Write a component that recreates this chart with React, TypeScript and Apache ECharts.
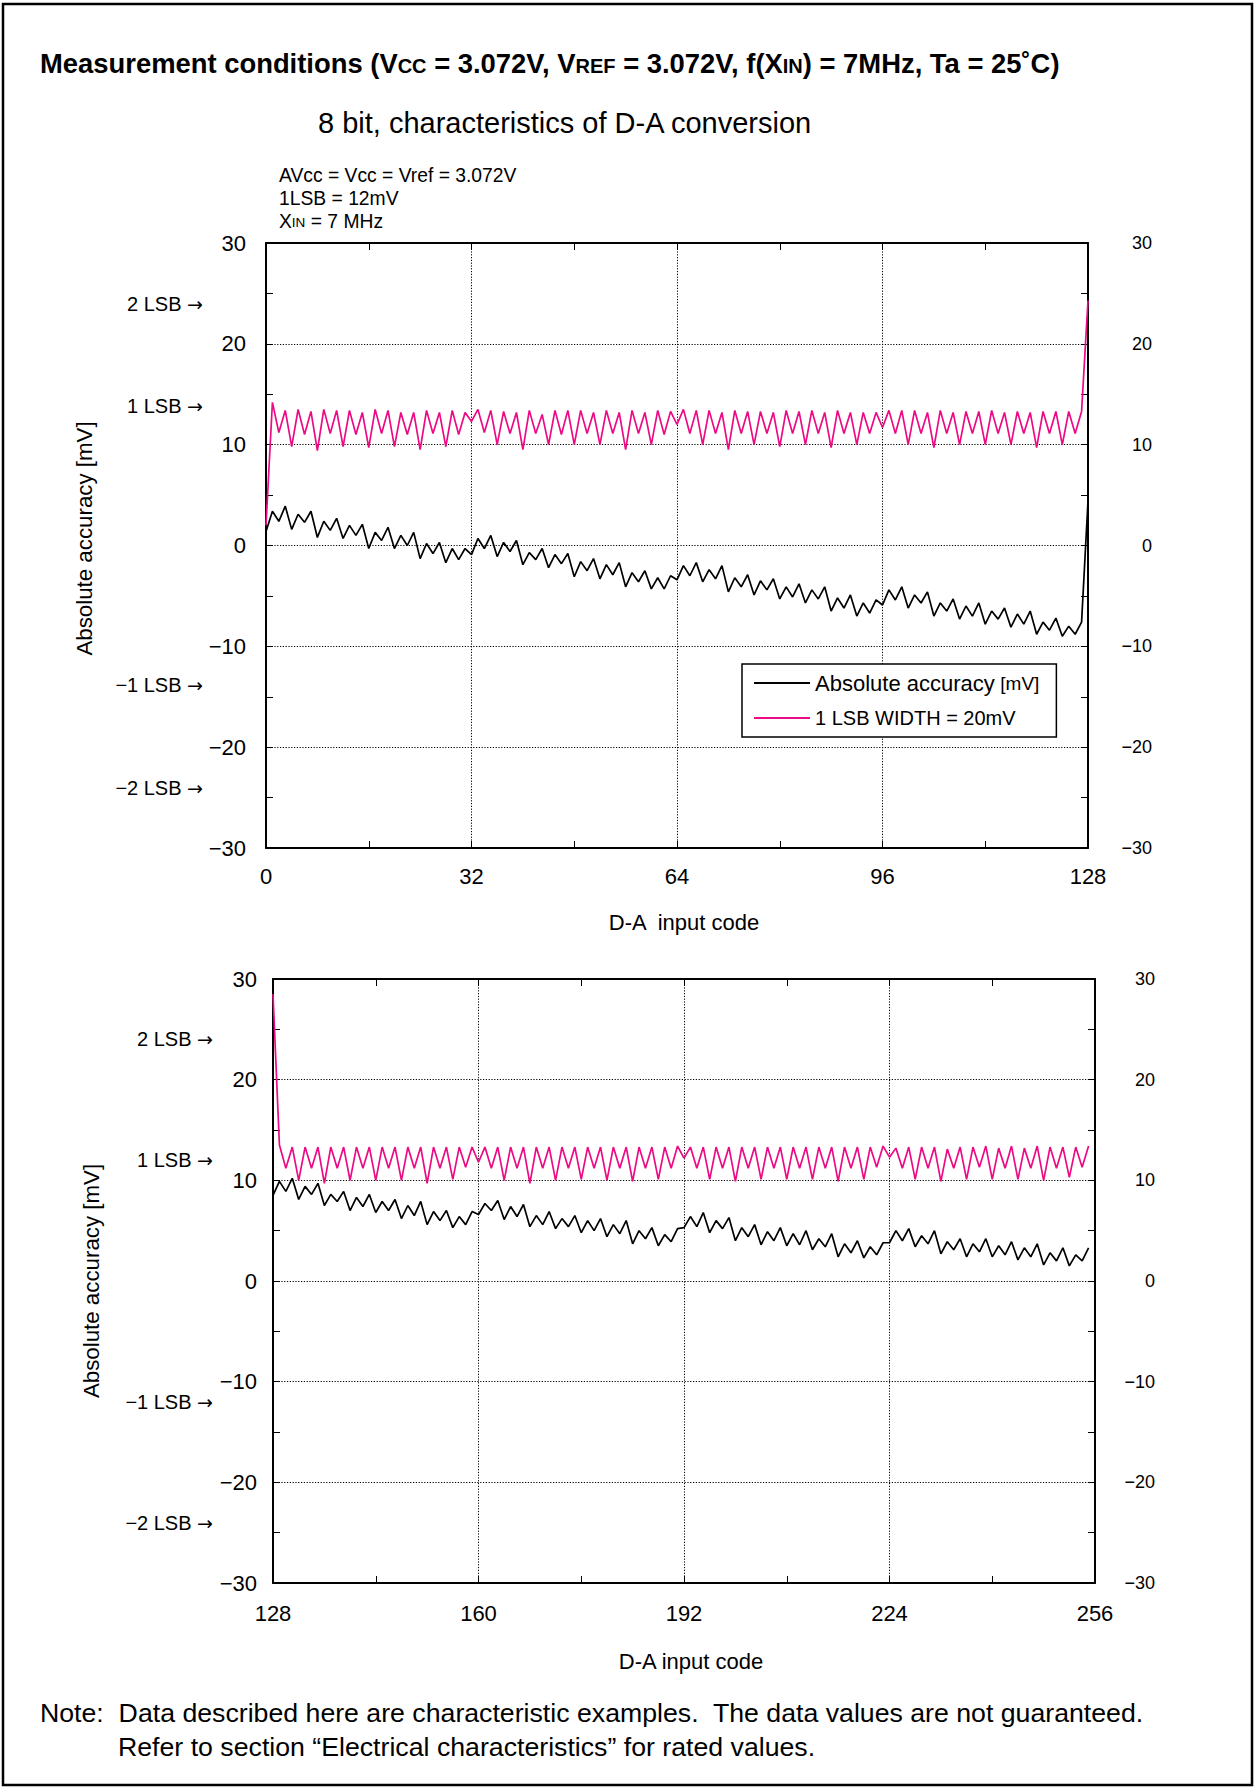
import React, { useEffect, useRef } from "react";
import * as echarts from "echarts";

const FONT = "'Liberation Sans', Arial, Helvetica, sans-serif";
const ARROW_FONT = "'DejaVu Sans', 'Liberation Sans', sans-serif";
const BLACK = "#000000";
const PINK = "#ec0a85";

// ---- data ----
const topCodes: number[] = Array.from({ length: 129 }, (_, i) => i); // 0..128
const bottomCodes: number[] = Array.from({ length: 128 }, (_, i) => 128 + i); // 128..255

const topAbsAccuracy: number[] = [
  1.4, 3.4, 2.4, 3.9, 1.6, 3.1, 2.3, 3.4, 0.8, 2.4, 1.5, 2.7, 0.7, 2.0, 1.0, 2.1,
  -0.3, 1.3, 0.5, 1.8, -0.3, 1.0, 0.0, 1.3, -1.3, 0.2, -0.8, 0.3, -1.7, -0.3, -1.4, -0.3,
  -0.9, 0.7, -0.3, 1.0, -1.1, 0.3, -0.6, 0.5, -1.9, -0.7, -1.4, -0.3, -2.2, -0.9, -1.8, -0.8,
  -3.1, -1.6, -2.5, -1.3, -3.3, -1.9, -2.9, -1.7, -4.1, -2.7, -3.6, -2.5, -4.3, -3.2, -4.3, -3.0,
  -3.4, -2.0, -3.0, -1.7, -3.6, -2.4, -3.3, -2.0, -4.6, -3.2, -4.1, -2.9, -4.9, -3.5, -4.4, -3.3,
  -5.3, -4.1, -5.1, -3.8, -5.7, -4.4, -5.3, -4.1, -6.5, -5.2, -6.2, -4.9, -7.0, -5.7, -6.7, -5.4,
  -5.9, -4.4, -5.4, -4.1, -6.2, -4.9, -5.7, -4.6, -7.0, -5.7, -6.5, -5.3, -7.3, -6.0, -7.0, -5.7,
  -7.8, -6.5, -7.3, -6.2, -8.1, -6.8, -7.8, -6.5, -8.8, -7.6, -8.4, -7.2, -9.0, -8.0, -8.8, -7.6,
  4.4,
];

const topLsbWidth: number[] = [
  2.0, 14.2, 11.2, 13.4, 9.8, 13.5, 11.0, 13.3, 9.4, 13.5, 11.1, 13.4, 9.8, 13.4, 11.0, 13.2,
  9.7, 13.5, 11.1, 13.4, 9.8, 13.2, 11.0, 13.2, 9.5, 13.4, 11.1, 13.2, 9.8, 13.4, 11.0, 13.2,
  12.3, 13.5, 11.2, 13.4, 10.0, 13.3, 11.1, 13.2, 9.5, 13.4, 11.1, 13.0, 10.0, 13.4, 11.0, 13.4,
  10.0, 13.4, 11.1, 13.2, 10.0, 13.4, 11.1, 13.2, 9.5, 13.4, 11.1, 13.2, 10.0, 13.4, 11.0, 13.3,
  12.0, 13.5, 11.1, 13.4, 10.0, 13.4, 11.1, 13.2, 9.5, 13.4, 11.1, 13.3, 10.0, 13.3, 11.1, 13.2,
  9.8, 13.4, 11.1, 13.3, 10.0, 13.4, 11.1, 13.2, 9.7, 13.4, 11.1, 13.2, 10.0, 13.2, 11.1, 13.2,
  11.7, 13.4, 11.1, 13.4, 10.0, 13.4, 11.1, 13.2, 9.7, 13.4, 11.1, 13.2, 10.0, 13.3, 11.1, 13.3,
  10.0, 13.4, 11.1, 13.2, 10.0, 13.3, 11.1, 13.2, 9.7, 13.3, 11.1, 13.3, 10.0, 13.3, 11.1, 13.3,
  24.3,
];

const bottomAbsAccuracy: number[] = [
  8.5, 9.9, 8.9, 10.2, 8.1, 9.4, 8.6, 9.7, 7.5, 8.6, 7.9, 8.9, 7.0, 8.3, 7.4, 8.6,
  6.8, 7.9, 7.0, 8.1, 6.2, 7.5, 6.5, 7.9, 5.6, 6.9, 6.0, 7.0, 5.3, 6.4, 5.6, 6.9,
  6.6, 7.7, 7.0, 8.0, 6.1, 7.4, 6.4, 7.6, 5.4, 6.5, 5.6, 6.9, 5.2, 6.2, 5.4, 6.5,
  4.8, 6.0, 5.0, 6.2, 4.4, 5.6, 4.7, 6.0, 3.7, 5.0, 4.2, 5.3, 3.5, 4.6, 3.9, 5.2,
  5.3, 6.4, 5.4, 6.8, 4.8, 6.0, 5.2, 6.3, 4.0, 5.3, 4.4, 5.6, 3.6, 4.9, 4.0, 5.3,
  3.5, 4.7, 3.6, 5.0, 3.1, 4.2, 3.4, 4.7, 2.4, 3.7, 2.8, 4.0, 2.3, 3.4, 2.6, 3.8,
  3.8, 5.0, 4.0, 5.2, 3.4, 4.5, 3.7, 5.0, 2.7, 3.9, 3.1, 4.2, 2.4, 3.7, 2.9, 4.2,
  2.4, 3.5, 2.6, 3.9, 2.1, 3.3, 2.4, 3.7, 1.6, 2.8, 2.0, 3.3, 1.5, 2.6, 2.0, 3.3,
];

const bottomLsbWidth: number[] = [
  28.5, 13.5, 11.2, 13.3, 10.0, 13.3, 11.2, 13.3, 9.7, 13.3, 11.2, 13.3, 10.0, 13.3, 11.2, 13.3,
  10.0, 13.3, 11.2, 13.3, 10.0, 13.3, 11.2, 13.3, 9.7, 13.3, 11.2, 13.3, 10.1, 13.3, 11.3, 13.3,
  11.8, 13.3, 11.2, 13.3, 10.0, 13.3, 11.2, 13.3, 9.7, 13.3, 11.2, 13.3, 10.0, 13.3, 11.2, 13.3,
  10.1, 13.3, 11.2, 13.3, 10.0, 13.3, 11.2, 13.3, 9.9, 13.3, 11.2, 13.3, 10.1, 13.3, 11.2, 13.4,
  12.2, 13.3, 11.2, 13.3, 10.1, 13.3, 11.2, 13.3, 9.9, 13.3, 11.2, 13.3, 10.1, 13.3, 11.2, 13.3,
  10.1, 13.3, 11.2, 13.3, 10.1, 13.3, 11.2, 13.3, 9.9, 13.3, 11.2, 13.3, 10.1, 13.3, 11.3, 13.4,
  12.3, 13.2, 11.2, 13.3, 10.1, 13.3, 11.2, 13.3, 9.9, 13.1, 11.2, 13.3, 10.1, 13.3, 11.3, 13.4,
  10.1, 13.2, 11.2, 13.4, 10.1, 13.2, 11.2, 13.4, 10.0, 13.3, 11.2, 13.3, 10.3, 13.3, 11.3, 13.4,
];

const seriesNames = ["Absolute accuracy", "1 LSB WIDTH = 20mV"];
const topLsbMarks = [
  { text: "2 LSB", value: 24 },
  { text: "1 LSB", value: 13.8 },
  { text: "−1 LSB", value: -13.8 },
  { text: "−2 LSB", value: -24 },
];
const bottomLsbMarks = [
  { text: "2 LSB", value: 24 },
  { text: "1 LSB", value: 12 },
  { text: "−1 LSB", value: -12 },
  { text: "−2 LSB", value: -24 },
];

const minusFmt = (v: number) => String(v).replace("-", "−");

function xAxes(grid: number, min: number, max: number, name: string, nameGap: number, labelMargin: number) {
  const common = {
    gridIndex: grid,
    type: "value",
    min,
    max,
    interval: 32,
    axisLine: { show: true, onZero: false, lineStyle: { color: BLACK, width: 2 } },
    axisTick: { show: true, inside: true, length: 7, lineStyle: { color: BLACK, width: 1 } },
    minorTick: { show: true, splitNumber: 2, length: 7, lineStyle: { color: BLACK, width: 1 } },
  };
  return [
    {
      ...common,
      position: "bottom",
      name,
      nameLocation: "middle",
      nameGap,
      nameTextStyle: { fontSize: 22, color: BLACK, fontFamily: FONT, padding: [0, 0, 0, 14] },
      axisLabel: { show: true, fontSize: 22, color: BLACK, fontFamily: FONT, margin: labelMargin },
      splitLine: { show: true, lineStyle: { color: BLACK, width: 1, type: [1.2, 1.6] } },
    },
    {
      ...common,
      position: "top",
      axisLabel: { show: false },
      splitLine: { show: false },
    },
  ];
}

function yAxes(grid: number, leftMargin: number, rightMargin: number, namePad: number[]) {
  const common = {
    gridIndex: grid,
    type: "value",
    min: -30,
    max: 30,
    interval: 10,
    axisLine: { show: true, onZero: false, lineStyle: { color: BLACK, width: 2 } },
    axisTick: { show: true, inside: true, length: 7, lineStyle: { color: BLACK, width: 1 } },
    minorTick: { show: true, splitNumber: 2, length: 7, lineStyle: { color: BLACK, width: 1 } },
  };
  return [
    {
      ...common,
      position: "left",
      name: "Absolute accuracy [mV]",
      nameLocation: "middle",
      nameGap: 171,
      nameTextStyle: { fontSize: 22.3, color: BLACK, fontFamily: FONT, padding: namePad },
      axisLabel: { fontSize: 22, color: BLACK, fontFamily: FONT, margin: leftMargin, formatter: minusFmt },
      splitLine: { show: true, lineStyle: { color: BLACK, width: 1, type: [1.2, 1.6] } },
    },
    {
      ...common,
      position: "right",
      axisLabel: {
        fontSize: 18,
        color: BLACK,
        fontFamily: FONT,
        margin: rightMargin,
        align: "right",
        formatter: minusFmt,
      },
      splitLine: { show: false },
    },
  ];
}

function lineSeries(name: string, codes: number[], values: number[], color: string, xi: number, yi: number) {
  return {
    type: "line",
    name,
    xAxisIndex: xi,
    yAxisIndex: yi,
    data: codes.map((c, i) => [c, values[i]]),
    showSymbol: false,
    symbol: "none",
    silent: true,
    lineStyle: { color, width: 1.7 },
    itemStyle: { color },
  };
}

const textEl = (text: string, x: number, y: number, fontSize: number, extra: any = {}) => ({
  type: "text",
  x,
  y,
  silent: true,
  style: {
    text,
    fill: BLACK,
    fontSize,
    fontFamily: FONT,
    verticalAlign: "middle",
    ...extra,
  },
});

const lsbEl = (text: string, x: number, y: number) => ({
  type: "text",
  x,
  y,
  silent: true,
  style: {
    text: "{t|" + text + " }{r|→}",
    align: "right",
    verticalAlign: "middle",
    fill: BLACK,
    rich: {
      t: { fontSize: 20, fontFamily: FONT, fill: BLACK, verticalAlign: "middle" },
      r: { fontSize: 19, fontFamily: ARROW_FONT, fill: BLACK, verticalAlign: "middle" },
    },
  },
});

export default function App() {
  const ref = useRef<HTMLDivElement>(null);

  useEffect(() => {
    document.body.style.margin = "0";
    if (!ref.current) return;
    const chart = echarts.init(ref.current, undefined, { renderer: "svg" });

    const option: any = {
      animation: false,
      backgroundColor: "#ffffff",
      textStyle: { fontFamily: FONT },
      grid: [
        { left: 266, top: 243, width: 822, height: 605 },
        { left: 273, top: 979, width: 822, height: 604 },
      ],
      xAxis: [
        ...xAxes(0, 0, 128, "D-A  input code", 63, 17),
        ...xAxes(1, 128, 256, "D-A input code", 67, 19),
      ],
      yAxis: [...yAxes(0, 20, 64, [0, 0, 0, 14]), ...yAxes(1, 16, 60, [0, 0, 0, 0])],
      legend: {
        data: seriesNames,
        left: 742,
        top: 664,
        orient: "vertical",
        icon: "rect",
        itemWidth: 56,
        itemHeight: 2,
        itemGap: 14,
        padding: [8, 17, 9, 12],
        borderColor: BLACK,
        borderWidth: 1.5,
        backgroundColor: "#ffffff",
        selectedMode: false,
        textStyle: {
          color: BLACK,
          fontFamily: FONT,
          fontSize: 20,
          rich: {
            a: { fontSize: 22, fontFamily: FONT, color: BLACK },
            u: { fontSize: 19, fontFamily: FONT, color: BLACK },
            c: { fontSize: 20, fontFamily: FONT, color: BLACK },
          },
        },
        formatter: (n: string) => (n === seriesNames[0] ? "{a|Absolute accuracy} {u|[mV]}" : "{c|" + n + "}"),
      },
      series: [
        lineSeries(seriesNames[1], topCodes, topLsbWidth, PINK, 0, 0),
        lineSeries(seriesNames[0], topCodes, topAbsAccuracy, BLACK, 0, 0),
        lineSeries(seriesNames[1], bottomCodes, bottomLsbWidth, PINK, 2, 2),
        lineSeries(seriesNames[0], bottomCodes, bottomAbsAccuracy, BLACK, 2, 2),
      ],
    };
    chart.setOption(option);

    const graphics: any[] = [
      {
        type: "rect",
        silent: true,
        shape: { x: 3, y: 4, width: 1249, height: 1781 },
        style: { fill: "none", stroke: BLACK, lineWidth: 2.5 },
      },
      {
        type: "text",
        x: 40,
        y: 63,
        silent: true,
        style: {
          text:
            "{b|Measurement conditions (V}{s|CC}{b| = 3.072V, V}{s|REF}{b| = 3.072V, f(X}{s|IN}{b|) = 7MHz, Ta = 25˚C)}",
          verticalAlign: "middle",
          fill: BLACK,
          rich: {
            b: { fontSize: 27.4, fontWeight: "bold", fontFamily: FONT, fill: BLACK, verticalAlign: "bottom" },
            s: { fontSize: 20, fontWeight: "bold", fontFamily: FONT, fill: BLACK, verticalAlign: "bottom", padding: [0, 0, 1, 0] },
          },
        },
      },
      textEl("8 bit, characteristics of D-A conversion", 318, 123, 29),
      textEl("AVcc = Vcc = Vref = 3.072V", 279, 175, 19.3),
      textEl("1LSB = 12mV", 279, 198, 19.3),
      {
        type: "text",
        x: 279,
        y: 221,
        silent: true,
        style: {
          text: "{n|X}{s|IN}{n| = 7 MHz}",
          verticalAlign: "middle",
          fill: BLACK,
          rich: {
            n: { fontSize: 19.3, fontFamily: FONT, fill: BLACK, verticalAlign: "bottom" },
            s: { fontSize: 13.5, fontFamily: FONT, fill: BLACK, verticalAlign: "bottom", padding: [0, 0, 1, 0] },
          },
        },
      },
      textEl("Note:  Data described here are characteristic examples.  The data values are not guaranteed.", 40, 1713, 26.7),
      textEl("Refer to section “Electrical characteristics” for rated values.", 118, 1747, 26.7),
    ];

    topLsbMarks.forEach((m) => {
      const y = chart.convertToPixel({ yAxisIndex: 0 } as any, m.value) as number;
      graphics.push(lsbEl(m.text, 203, y));
    });
    bottomLsbMarks.forEach((m) => {
      const y = chart.convertToPixel({ yAxisIndex: 2 } as any, m.value) as number;
      graphics.push(lsbEl(m.text, 213, y));
    });

    chart.setOption({ graphic: graphics });

    return () => chart.dispose();
  }, []);

  return <div ref={ref} style={{ width: 1256, height: 1789 }} />;
}
